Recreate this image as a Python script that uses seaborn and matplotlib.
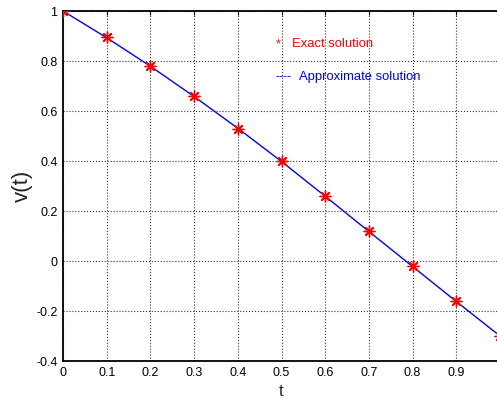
import matplotlib
matplotlib.use("Agg")
import matplotlib.pyplot as plt
import seaborn as sns
import pandas as pd

t_exact = [0.0, 0.1, 0.2, 0.3, 0.4, 0.5, 0.6, 0.7, 0.8, 0.9, 1.0]
v_exact = [1.0, 0.895, 0.78, 0.66, 0.53, 0.40, 0.26, 0.12, -0.02, -0.16, -0.30]
t_approx = [0.0, 0.1, 0.2, 0.3, 0.4, 0.5, 0.6, 0.7, 0.8, 0.9, 1.0]
v_approx = [1.0, 0.893, 0.779, 0.658, 0.531, 0.398, 0.259, 0.118, -0.022, -0.162, -0.30]
x_ticks = [0, 0.1, 0.2, 0.3, 0.4, 0.5, 0.6, 0.7, 0.8, 0.9]
x_tick_labels = ["0", "0.1", "0.2", "0.3", "0.4", "0.5", "0.6", "0.7", "0.8", "0.9"]
y_ticks = [-0.4, -0.2, 0, 0.2, 0.4, 0.6, 0.8, 1]
y_tick_labels = ["-0.4", "-0.2", "0", "0.2", "0.4", "0.6", "0.8", "1"]

sns.set_style("white")
plt.rcParams['font.family'] = ['Liberation Sans', 'DejaVu Sans']

fig = plt.figure(figsize=(4.97, 3.99), dpi=100)
W, H = 497, 399
ax = fig.add_axes([63 / W, 1 - 361 / H, 437 / W, 350 / H])

df_a = pd.DataFrame({"t": t_approx, "v": v_approx})
df_e = pd.DataFrame({"t": t_exact, "v": v_exact})
sns.lineplot(data=df_a, x="t", y="v", ax=ax, color="blue", linewidth=1.0)
sns.scatterplot(data=df_e, x="t", y="v", ax=ax, marker=(8, 2, 0), s=60,
                color="red", edgecolor="red", linewidth=1.0, zorder=5)

ax.set_xlim(0, 1.0)
ax.set_ylim(-0.4, 1.0)
ax.set_xticks(x_ticks)
ax.set_xticklabels(x_tick_labels, fontsize=9)
ax.set_yticks(y_ticks)
ax.set_yticklabels(y_tick_labels, fontsize=9)
ax.grid(True, color="#333333", linestyle=":", linewidth=0.8)
ax.tick_params(direction="in", top=True, right=True, length=3, width=0.8,
               colors="black", pad=4)
for s in ax.spines.values():
    s.set_color("black")
    s.set_linewidth(1.3)
ax.set_xlabel("t", fontsize=12, labelpad=4)
ax.set_ylabel("v(t)", fontsize=16, labelpad=2)

fig.text(276 / W, 1 - 44 / H, "*", color="red", fontsize=9, va="center")
fig.text(292 / W, 1 - 44 / H, "Exact solution", color="red", fontsize=9.4, va="center")
fig.text(275 / W, 1 - 77 / H, "----", color="blue", fontsize=9, va="center")
fig.text(299 / W, 1 - 77 / H, "Approximate solution", color="blue", fontsize=9.4, va="center")

fig.savefig("out.png", dpi=100)
